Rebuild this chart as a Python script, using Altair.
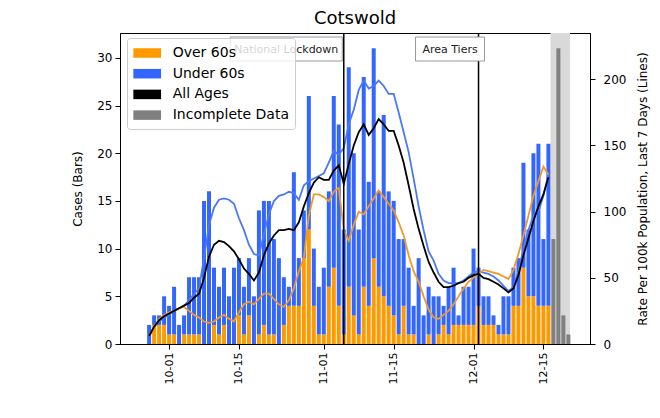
import altair as alt
import pandas as pd

# ---------------- data ----------------
start_date = "2020-09-27"
over60_cases = [0, 2, 2, 2, 1, 1, 0, 1, 1, 1, 1, 0, 0, 2, 1, 2, 0, 0, 3, 1,
                3, 0, 1, 2, 1, 1, 0, 2, 4, 4, 4, 9, 12, 4, 1, 1, 6, 8, 4, 1,
                6, 3, 1, 6, 4, 9, 6, 5, 4, 3, 1, 4, 1, 1, 0, 0, 1, 0, 1, 2,
                1, 2, 2, 2, 2, 2, 4, 2, 2, 2, 1, 1, 1, 4, 4, 8, 5, 5, 4, 4, 4]
under60_cases = [2, 1, 1, 3, 3, 5, 2, 2, 6, 6, 6, 15, 16, 6, 5, 6, 5, 8, 6, 5,
                 6, 5, 13, 13, 14, 10, 9, 5, 2, 14, 5, 5, 14, 6, 5, 7, 10, 18, 19, 11,
                 23, 17, 11, 22, 13, 22, 10, 19, 12, 12, 10, 7, 7, 3, 9, 3, 5, 5, 4, 2,
                 5, 6, 1, 4, 4, 8, 4, 3, 3, 1, 1, 4, 4, 4, 5, 11, 7, 15, 17, 7, 17]
incomplete_dates = ["2020-12-17", "2020-12-18", "2020-12-19", "2020-12-20"]
incomplete_cases = [11, 31, 3, 1]
incomplete_span = ["2020-12-16T10:00:00Z", "2020-12-20T08:00:00Z"]

rate_under60 = [6, 13, 17, 20, 22, 25, 27, 29, 33, 38, 42, 65, 90, 103, 109, 110, 109, 106, 95, 86,
                75, 68, 67, 83, 98, 108, 112, 113, 115, 114, 109, 120, 123, 125, 127, 129, 137, 146, 143, 148,
                166, 177, 192, 199, 193, 195, 199, 195, 189, 189, 175, 160, 145, 125, 104, 86, 70, 63, 53, 48,
                46, 46, 46, 48, 51, 54, 55, 54, 53, 51, 48, 44, 40, 43, 55, 72, 86, 97, 100, 112, 128]
rate_all = [6, 13, 18, 21, 23, 25, 27, 29, 31, 35, 38, 50, 66, 75, 78, 77, 74, 70, 64, 57,
            53, 48, 54, 67, 76, 82, 86, 86, 87, 86, 92, 104, 114, 122, 126, 124, 124, 131, 135, 121,
            136, 150, 160, 166, 158, 163, 170, 166, 161, 161, 150, 137, 120, 102, 87, 74, 62, 54, 47, 43,
            43, 44, 46, 47, 50, 52, 53, 50, 49, 47, 45, 42, 39, 42, 52, 67, 80, 93, 104, 113, 126]
rate_over60 = [6, 13, 19, 22, 24, 25, 27, 28, 25, 22, 20, 17, 16, 17, 20, 22, 19, 17, 24, 30,
               32, 30, 34, 38, 38, 34, 30, 28, 33, 42, 55, 65, 97, 113, 113, 111, 108, 115, 118, 86,
               78, 90, 100, 98, 104, 110, 116, 111, 106, 101, 92, 82, 67, 55, 47, 36, 26, 20, 19, 22,
               25, 30, 36, 42, 47, 50, 53, 56, 55, 54, 53, 51, 49, 56, 68, 82, 97, 112, 123, 134, 128]

event_labels = ["National Lockdown", "Area Tiers"]
event_dates = ["2020-11-05", "2020-12-02"]

legend_labels = ["Over 60s", "Under 60s", "All Ages", "Incomplete Data"]
legend_colors = ["#FF9900", "#3366FF", "#000000", "#808080"]

x_ticks = ["2020-10-01", "2020-10-15", "2020-11-01", "2020-11-15", "2020-12-01", "2020-12-15"]
x_domain = ["2020-09-22T04:00:00Z", "2020-12-23T08:00:00Z"]
left_ticks = [0, 5, 10, 15, 20, 25, 30]
right_ticks = [0, 50, 100, 150, 200]

# ---------------- tables ----------------
n = len(over60_cases)
dates = [d.strftime("%Y-%m-%d") for d in pd.date_range(start_date, periods=n, freq="D")]
k = len(incomplete_cases)

bars_df = pd.DataFrame({
    "date": dates + dates + incomplete_dates,
    "cases": over60_cases + under60_cases + incomplete_cases,
    "group": ["Over 60s"] * n + ["Under 60s"] * n + ["Incomplete Data"] * k,
    "order": [0] * n + [1] * n + [2] * k,
})
lines_df = pd.DataFrame({
    "date": dates * 3,
    "rate": rate_under60 + rate_over60 + rate_all,
    "series": ["Under 60s"] * n + ["Over 60s"] * n + ["All Ages"] * n,
})
events_df = pd.DataFrame({"date": event_dates, "label": event_labels})
span_df = pd.DataFrame({"start": [incomplete_span[0]], "end": [incomplete_span[1]]})

FONT = "DejaVu Sans"


def dt(s):
    y, m, d = (int(v) for v in s.split("-"))
    return alt.DateTime(year=y, month=m, date=d, utc=True)


x_scale = alt.Scale(type="utc", domain=x_domain, nice=False)
x_axis = alt.Axis(values=[dt(t) for t in x_ticks],
                  labelExpr="utcFormat(datum.value, '%m-%d')",
                  labelAngle=270, labelAlign="right", labelBaseline="middle",
                  labelFontSize=11, tickSize=5, labelPadding=3, grid=False)


def X(field="date"):
    return alt.X(f"{field}:T", scale=x_scale, axis=x_axis, title=None)


# ---------------- left (bars) ----------------
shade = alt.Chart(span_df).mark_rect(color="#d9d9d9").encode(
    x=X("start"), x2=alt.X2("end:T"))

bars = alt.Chart(bars_df).mark_bar(size=4).encode(
    x=X(),
    y=alt.Y("cases:Q", stack="zero",
            scale=alt.Scale(domain=[0, 32.6], nice=False),
            axis=alt.Axis(values=left_ticks, orient="left", title="Cases (Bars)",
                          titleFontSize=12, titleFontWeight="normal", labelFontSize=12,
                          tickSize=5, labelPadding=3, titlePadding=12, grid=False)),
    color=alt.Color("group:N",
                    scale=alt.Scale(domain=legend_labels, range=legend_colors),
                    legend=alt.Legend(
                        title=None, orient="none", legendX=7, legendY=5,
                        padding=6, fillColor="rgba(255,255,255,0.8)",
                        strokeColor="#cccccc", cornerRadius=3,
                        symbolType="M-1,-0.55H2.2V0.55H-1Z", symbolSize=300,
                        symbolStrokeWidth=0, symbolOpacity=1,
                        labelFont=FONT, labelFontSize=14, labelColor="black",
                        labelOffset=21.7, rowPadding=4.7)),
    order=alt.Order("order:Q"),
)
left = alt.layer(shade, bars)

# ---------------- right (lines) ----------------
line_colors = {"Under 60s": "#4A78F5", "Over 60s": "#EE9A2A", "All Ages": "#000000"}
line_layers = []
for name, col in line_colors.items():
    line_layers.append(
        alt.Chart(lines_df).transform_filter(alt.datum.series == name)
        .mark_line(color=col, strokeWidth=1.8)
        .encode(
            x=X(),
            y=alt.Y("rate:Q", scale=alt.Scale(domain=[0, 235], nice=False),
                    axis=alt.Axis(values=right_ticks, orient="right",
                                  title="Rate Per 100k Population, Last 7 Days (Lines)",
                                  titleAngle=270, titleFontSize=12, titleFontWeight="normal",
                                  labelFontSize=12, tickSize=5, labelPadding=8,
                                  titlePadding=24, grid=False)),
        )
    )
right = alt.layer(*line_layers)

# ---------------- overlay (events) ----------------
rules = alt.Chart(events_df).mark_rule(color="black", strokeWidth=1.5).encode(x=X())
box_offsets = {"National Lockdown": (-113.5, -1.5), "Area Tiers": (-63, 6)}
overlay_layers = [rules]
for lab in event_labels:
    x0, x1 = box_offsets[lab]
    sub = events_df[events_df["label"] == lab]
    overlay_layers.append(
        alt.Chart(sub).mark_rect(fill="white", stroke="#999999", strokeWidth=1,
                                 xOffset=x0, x2Offset=x1)
        .encode(x=X(), x2=alt.X2("date:T"), y=alt.value(4), y2=alt.value(28)))
    overlay_layers.append(
        alt.Chart(sub).mark_text(font=FONT, fontSize=11, color="#222222",
                                 align="center", baseline="middle", dx=(x0 + x1) / 2)
        .encode(x=X(), y=alt.value(16.5), text="label:N"))
overlay = alt.layer(*overlay_layers)

chart = (
    alt.layer(left, right, overlay)
    .resolve_scale(y="independent")
    .properties(
        width=470, height=311,
        title=alt.TitleParams("Cotswold", fontSize=18, font=FONT,
                              fontWeight="normal", color="black", offset=4),
        autosize=alt.AutoSizeParams(type="none"),
        padding={"left": 112, "top": 25, "right": 62, "bottom": 70},
    )
    .configure(font=FONT)
    .configure_view(stroke="black", strokeWidth=1)
    .configure_axis(domainColor="black", tickColor="black", labelColor="black",
                    titleColor="black", labelFont=FONT, titleFont=FONT)
)

chart.save("out.html", embed_options={"renderer": "svg", "actions": False})
